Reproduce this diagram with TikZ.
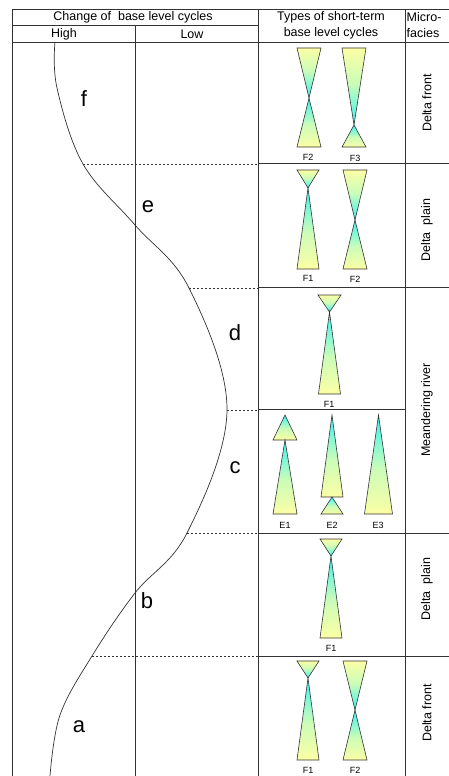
\documentclass[tikz,border=0pt]{standalone}
\usepackage{fontspec}
\setmainfont{Liberation Sans}
\definecolor{ye}{RGB}{252,255,165}
\definecolor{cy}{RGB}{55,243,243}
\definecolor{ln}{RGB}{50,50,50}
\pgfdeclareverticalshading{upsh}{100bp}{color(0bp)=(ye); color(25bp)=(ye); color(48bp)=(ye!75!cy); color(75bp)=(cy); color(100bp)=(cy)}
\pgfdeclareverticalshading{dnsh}{100bp}{color(0bp)=(cy); color(25bp)=(cy); color(52bp)=(ye!75!cy); color(75bp)=(ye); color(100bp)=(ye)}
\tikzset{
  grid/.style={draw=ln, line width=0.9pt},
  dash line/.style={draw=ln, line width=0.8pt, dash pattern=on 2pt off 2pt},
  curveline/.style={draw=ln, line width=0.7pt},
  tri/.style={draw=black!80, line width=0.6pt},
  head/.style={font=\fontsize{12.5}{14}\selectfont, inner sep=0pt},
  facies/.style={font=\fontsize{12.5}{14}\selectfont, rotate=90, inner sep=0pt},
  letter/.style={font=\fontsize{22}{24}\selectfont, inner sep=0pt},
  small/.style={font=\fontsize{9}{10}\selectfont, inner sep=0pt}
}
% upright triangle: apex x, apex y, base y, half width
\newcommand\triup[4]{\shadedraw[tri, shading=upsh] (#1,#2) -- (#1-#4,#3) -- (#1+#4,#3) -- cycle;}
% inverted triangle: apex x, apex y, base y, half width
\newcommand\tridn[4]{\shadedraw[tri, shading=dnsh] (#1,#2) -- (#1-#4,#3) -- (#1+#4,#3) -- cycle;}
\begin{document}
\begin{tikzpicture}[x=1pt, y=-1pt]
\useasboundingbox (0,0) rectangle (449,776);
% ---- table grid
\draw[grid] (12,9.5) -- (449,9.5);
\draw[grid] (12,25.5) -- (258,25.5);
\draw[grid] (12,42) -- (449,42);
\draw[grid] (12.5,9.5) -- (12.5,776);
\draw[grid] (135,25.5) -- (135,776);
\draw[grid] (258,9.5) -- (258,776);
\draw[grid] (405,9.5) -- (405,776);
\draw[grid] (258,163.5) -- (449,163.5);
\draw[grid] (258,287.5) -- (449,287.5);
\draw[grid] (258,409.5) -- (405,409.5);
\draw[grid] (258,533) -- (449,533);
\draw[grid] (258,656) -- (449,656);
% ---- headers
\node[head] (h1) at (133,17) {Change of\ \ base level cycles};
\node[head] (h2) at (64,34) {High};
\node[head] (h3) at (192,34) {Low};
\node[head] (h4) at (331,17.5) {Types of short-term};
\node[head] (h5) at (331,33.5) {base level cycles};
\node[head, anchor=west] (h6) at (406.5,17.5) {Micro-};
\node[head, anchor=west] (h7) at (406.5,33.5) {facies};
% ---- curve
\coordinate (p1) at (83,164);
\coordinate (p2) at (189,288);
\coordinate (p3) at (227,410);
\coordinate (p4) at (187,533);
\coordinate (p5) at (92,656);
\draw[curveline] plot[smooth, tension=0.6] coordinates {(55,42) (57,88) (p1) (135,225) (p2) (p3) (p4) (135,593) (p5) (60,715) (50,776)};
\coordinate (r1) at (258,164);
\coordinate (r2) at (258,288);
\coordinate (r3) at (258,410);
\coordinate (r4) at (258,533);
\coordinate (r5) at (258,656);
\draw[dash line] (p1) -- (r1);
\draw[dash line] (p2) -- (r2);
\draw[dash line] (p3) -- (r3);
\draw[dash line] (p4) -- (r4);
\draw[dash line] (p5) -- (r5);
% ---- letters
\node[letter] (lf) at (84,99) {f};
\node[letter] (le) at (148,207) {e};
\node[letter] (ld) at (235,333) {d};
\node[letter] (lc) at (235,468) {c};
\node[letter] (lb) at (147,601) {b};
\node[letter] (la) at (79,727) {a};
% ---- row f
\tridn{309}{98}{48}{12} \triup{309}{98}{147}{12}
\tridn{354}{125}{48}{12} \triup{354}{125}{147}{12}
\node[small] (f1) at (308,157) {F2};
\node[small] (f2) at (355,158) {F3};
% ---- row e
\tridn{308}{188}{170}{11} \triup{308}{188}{269}{11}
\tridn{355}{220}{170}{12} \triup{355}{220}{269}{12}
\node[small] (e1) at (308,278.5) {F1};
\node[small] (e2) at (355,279) {F2};
% ---- row d
\tridn{329.5}{312}{295}{11.5} \triup{329.5}{312}{394}{11}
\node[small] (d1) at (329,404) {F1};
% ---- row c
\triup{285}{415}{440}{12} \triup{285}{440}{514}{12}
\triup{332}{415}{497}{11} \triup{332}{497}{514}{11}
\triup{378.5}{415}{514}{14}
\node[small] (c1) at (285,525) {E1};
\node[small] (c2) at (332,525) {E2};
\node[small] (c3) at (378,525) {E3};
% ---- row b
\tridn{331}{556}{539}{11} \triup{331}{556}{638}{11}
\node[small] (b1) at (331,648) {F1};
% ---- row a
\tridn{308}{678}{661}{11} \triup{308}{678}{760}{11}
\tridn{355}{710}{661}{12} \triup{355}{710}{760}{12}
\node[small] (a1) at (308,770) {F1};
\node[small] (a2) at (355,770) {F2};
% ---- micro-facies
\node[facies] (m1) at (427,103) {Delta front};
\node[facies] (m2) at (427,230) {Delta\ \ plain};
\node[facies] (m3) at (427,410) {Meandering river};
\node[facies] (m4) at (427,589) {Delta\ \ plain};
\node[facies] (m5) at (427,713) {Delta front};
\end{tikzpicture}
\end{document}
